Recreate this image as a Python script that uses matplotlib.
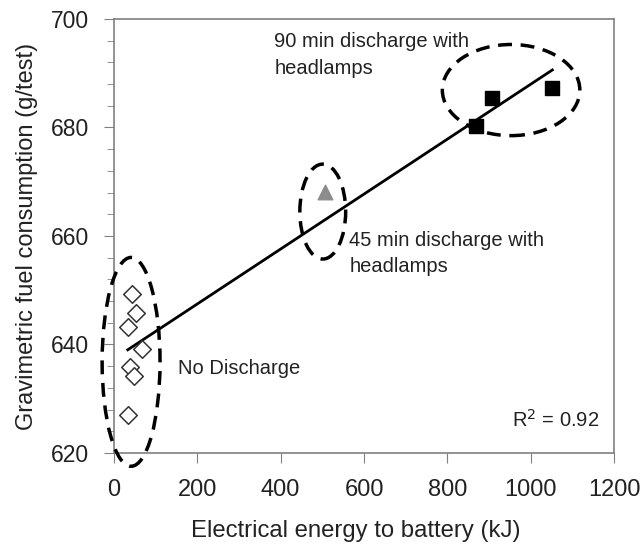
import numpy as np
import matplotlib.pyplot as plt
from matplotlib.patches import Ellipse
from matplotlib.ticker import MultipleLocator

plt.rcParams['font.family'] = ['Liberation Sans', 'DejaVu Sans']

# no discharge tests
none_x = [42, 53, 33, 68, 38, 49, 33]
none_y = [649.3, 645.8, 643.2, 639.2, 635.9, 634.2, 627.0]
# 45 min discharge with headlamps
d45_x = [506]
d45_y = [668.2]
# 90 min discharge with headlamps
d90_x = [869, 908, 1052]
d90_y = [680.3, 685.4, 687.2]

all_x = np.array(none_x + d45_x + d90_x)
all_y = np.array(none_y + d45_y + d90_y)
slope, icpt = np.polyfit(all_x, all_y, 1)

text_col = '#222222'
axis_col = '#808080'

fig = plt.figure(figsize=(6.44, 5.5), dpi=100)
ax = fig.add_axes([114 / 644, 1 - 453 / 550, 500 / 644, 434 / 550])

xs = np.array([all_x.min(), all_x.max()])
ax.plot(xs, slope * xs + icpt, color='black', lw=2, zorder=2)

ax.scatter(none_x, none_y, marker='D', s=80, facecolor='white', edgecolor='#333333', lw=1.1, zorder=3)
ax.scatter(d45_x, d45_y, marker='^', s=110, color='#8c8c8c', zorder=3)
ax.scatter(d90_x, d90_y, marker='s', s=110, color='black', zorder=3)

# dashed groupings
for cx, cy, w, h in [(41, 636.8, 139, 38.5), (501, 664.5, 110, 17.5), (953, 686.9, 330, 16.8)]:
    ax.add_patch(Ellipse((cx, cy), w, h, fill=False, ls=(0, (4, 2.5)), lw=2.5,
                         color='black', clip_on=False, zorder=4))

ann = dict(fontsize=14.5, color=text_col, linespacing=1.5)
ax.text(385, 697.6, '90 min discharge with\nheadlamps', va='top', **ann)
ax.text(565, 661.0, '45 min discharge with\nheadlamps', va='top', **ann)
ax.text(154, 635.6, 'No Discharge', va='center', **ann)
ax.text(1165, 626.1, 'R$^2$ = 0.92', ha='right', va='center', **ann)

ax.set_xlim(0, 1200)
ax.set_ylim(620, 700)
ax.xaxis.set_major_locator(MultipleLocator(200))
ax.yaxis.set_major_locator(MultipleLocator(20))
ax.yaxis.set_minor_locator(MultipleLocator(4))
ax.tick_params(axis='both', which='both', direction='out', color=axis_col, labelcolor=text_col)
ax.tick_params(which='major', length=7)
ax.tick_params(which='minor', length=5)
ax.tick_params(axis='x', pad=12, labelsize=17)
ax.tick_params(axis='y', pad=11, labelsize=16.5)
for sp in ax.spines.values():
    sp.set_color(axis_col)
    sp.set_linewidth(1.2)

ax.set_xlabel('Electrical energy to battery (kJ)', fontsize=17.2, color=text_col)
ax.xaxis.set_label_coords(0.483, -0.155)
ax.set_ylabel('Gravimetric fuel consumption (g/test)', fontsize=17, color=text_col, labelpad=9)

fig.savefig('out.png', dpi=100)
